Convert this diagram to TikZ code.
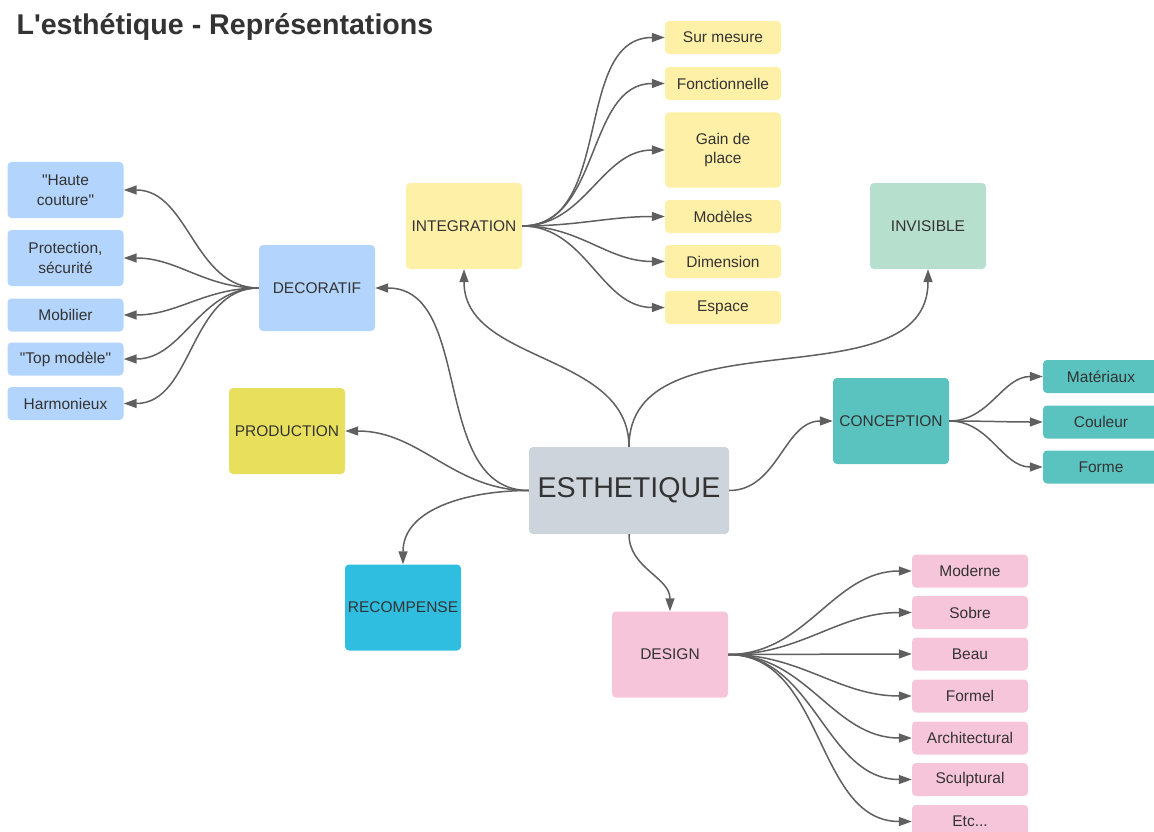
\documentclass[tikz,border=0pt]{standalone}
\usepackage{fontspec}
\setmainfont{Liberation Sans}
\usetikzlibrary{arrows.meta}
\definecolor{txtgrey}{HTML}{333333}
\definecolor{linegrey}{HTML}{5F5F5F}
\definecolor{decoblue}{HTML}{B3D4FC}
\definecolor{integyellow}{HTML}{FFF0A8}
\definecolor{prodyellow}{HTML}{E8E05C}
\definecolor{recocyan}{HTML}{2FBDE0}
\definecolor{invigreen}{HTML}{B7DFCD}
\definecolor{concteal}{HTML}{5AC3C0}
\definecolor{desipink}{HTML}{F6C5DA}
\definecolor{esthgrey}{HTML}{CED4DC}

\begin{document}
\begin{tikzpicture}[x=1pt,y=-1pt,
	every node/.style={text=txtgrey,font=\fontsize{15.5}{19.5}\selectfont},
	box/.style={rounded corners=4pt,minimum width=116pt,minimum height=86pt,
		inner sep=0pt,align=center},
	leaf/.style={box,minimum height=33pt},
	conn/.style={draw=linegrey,line width=1.5pt,
		-{Triangle[length=13pt,width=9pt]}}]
	\useasboundingbox (0,0) rectangle (1154,832);
	\node[anchor=base west,font=\fontsize{28.6}{32}\selectfont\bfseries] (title) at (13,35)
		{L\textquotesingle esth\'etique - Repr\'esentations};
	% centre
	\node[box,fill=esthgrey,minimum width=200pt,minimum height=87pt,
		font=\fontsize{28.6}{32}\selectfont] (esth) at (629,490.5) {ESTHETIQUE};
	% main branches
	\node[box,fill=decoblue] (deco) at (317,288) {DECORATIF};
	\node[box,fill=integyellow] (integ) at (464,226) {INTEGRATION};
	\node[box,fill=invigreen] (invi) at (928,226) {INVISIBLE};
	\node[box,fill=prodyellow] (prod) at (287,431) {PRODUCTION};
	\node[box,fill=recocyan] (reco) at (403,607.5) {RECOMPENSE};
	\node[box,fill=concteal] (conc) at (891,421) {CONCEPTION};
	\node[box,fill=desipink] (desi) at (670,654.5) {DESIGN};
	% decoratif leaves
	\node[leaf,fill=decoblue,minimum height=56pt] (d1) at (65.5,190) {\textquotedbl Haute\\couture\textquotedbl};
	\node[leaf,fill=decoblue,minimum height=56pt] (d2) at (65.5,258) {Protection,\\s\'ecurit\'e};
	\node[leaf,fill=decoblue] (d3) at (65.5,315) {Mobilier};
	\node[leaf,fill=decoblue] (d4) at (65.5,359) {\textquotedbl Top mod\`ele\textquotedbl};
	\node[leaf,fill=decoblue] (d5) at (65.5,403.5) {Harmonieux};
	% integration leaves
	\node[leaf,fill=integyellow] (i1) at (723,37.5) {Sur mesure};
	\node[leaf,fill=integyellow] (i2) at (723,83.5) {Fonctionnelle};
	\node[leaf,fill=integyellow,minimum height=75pt] (i3) at (723,150) {Gain de\\place};
	\node[leaf,fill=integyellow] (i4) at (723,216.5) {Mod\`eles};
	\node[leaf,fill=integyellow] (i5) at (723,261.5) {Dimension};
	\node[leaf,fill=integyellow] (i6) at (723,307.5) {Espace};
	% conception leaves
	\node[leaf,fill=concteal] (c1) at (1101,376.5) {Mat\'eriaux};
	\node[leaf,fill=concteal] (c2) at (1101,422) {Couleur};
	\node[leaf,fill=concteal] (c3) at (1101,467) {Forme};
	% design leaves
	\node[leaf,fill=desipink] (s1) at (970,571) {Moderne};
	\node[leaf,fill=desipink] (s2) at (970,612.5) {Sobre};
	\node[leaf,fill=desipink] (s3) at (970,654) {Beau};
	\node[leaf,fill=desipink] (s4) at (970,696) {Formel};
	\node[leaf,fill=desipink] (s5) at (970,738) {Architectural};
	\node[leaf,fill=desipink] (s6) at (970,779.5) {Sculptural};
	\node[leaf,fill=desipink] (s7) at (970,821.5) {Etc...};
	% connectors from the centre
	\draw[conn] (esth.north) to[out=90,in=-90] (integ.south);
	\draw[conn] (esth.north) to[out=90,in=-90] (invi.south);
	\draw[conn] (esth.west) to[out=180,in=0] (deco.east);
	\draw[conn] (esth.west) to[out=180,in=0] (prod.east);
	\draw[conn] (esth.west) to[out=180,in=90] (reco.north);
	\draw[conn] (esth.east) to[out=0,in=180] (conc.west);
	\draw[conn] (esth.south) to[out=-90,in=90] (desi.north);
	% fans
	\foreach \n in {d1,d2,d3,d4,d5}
		\draw[conn] (deco.west) to[out=180,in=0] (\n.east);
	\foreach \n in {i1,i2,i3,i4,i5,i6}
		\draw[conn] (integ.east) to[out=0,in=180] (\n.west);
	\foreach \n in {c1,c2,c3}
		\draw[conn] (conc.east) to[out=0,in=180] (\n.west);
	\foreach \n in {s1,s2,s3,s4,s5,s6,s7}
		\draw[conn] (desi.east) to[out=0,in=180] (\n.west);
\end{tikzpicture}
\end{document}
